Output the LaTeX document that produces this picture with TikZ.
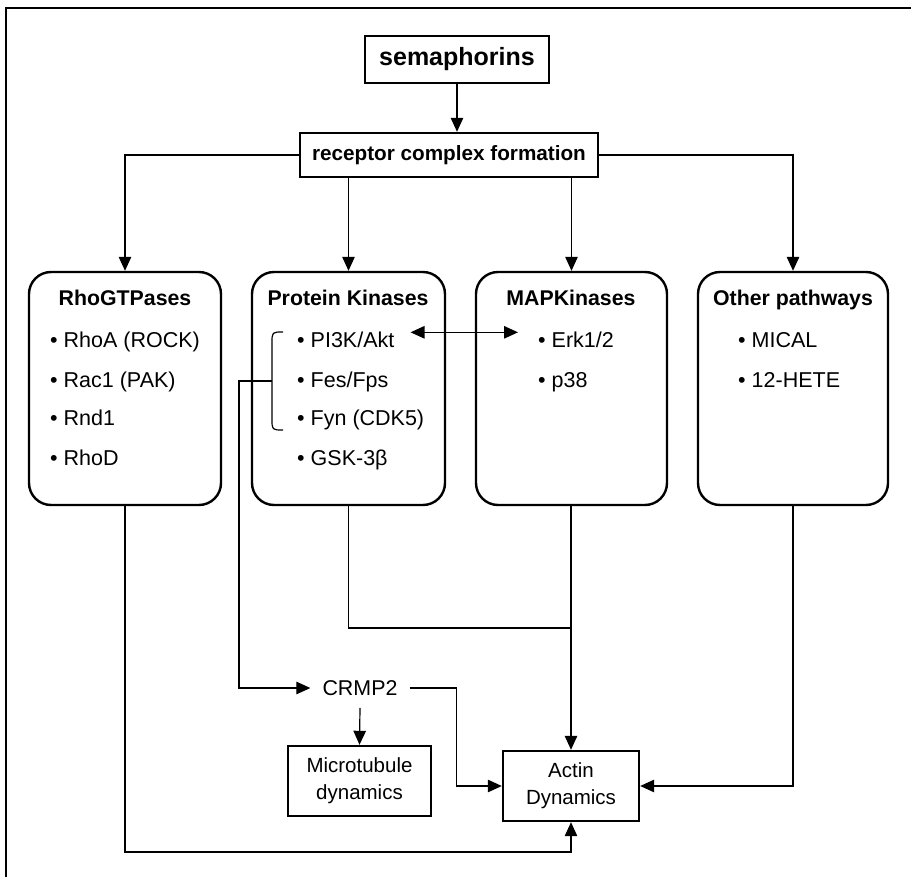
\documentclass[tikz,border=0pt]{standalone}
\usepackage{fontspec}
\setmainfont{Liberation Sans}
\usetikzlibrary{arrows.meta,calc}
\begin{document}
\begin{tikzpicture}[x=1pt,y=-1pt,
  conn/.style={line width=1.2pt},
  arr/.style={conn,-{Triangle[length=14pt,width=12.5pt]}},
  dblarr/.style={conn,{Triangle[length=14pt,width=12.5pt]}-{Triangle[length=14pt,width=12.5pt]}},
  sqbox/.style={draw,line width=2.4pt,inner sep=0pt,align=center},
  rbox/.style={draw,line width=2.4pt,rounded corners=22pt,minimum height=233pt,inner sep=0pt},
  ttl/.style={font=\fontsize{21.3}{25}\selectfont\bfseries,inner sep=0pt,anchor=base},
  itm/.style={font=\fontsize{21.5}{25}\selectfont,anchor=base west,inner sep=0pt},
]
\useasboundingbox (0,0) rectangle (911,877);
% frame (only left and top visible)
\draw[line width=2pt] (6,900) -- (6,8) -- (930,8);

% top boxes
\node[sqbox,minimum width=184pt,minimum height=47pt,font=\fontsize{25}{30}\selectfont\bfseries] (sema) at (457,59.5) {semaphorins};
\node[sqbox,minimum width=298pt,minimum height=44pt,font=\fontsize{20.7}{25}\selectfont\bfseries] (rec) at (449,155) {receptor complex formation};

% pathway boxes
\node[rbox,minimum width=192pt] (rho) at (125,388.5) {};
\node[rbox,minimum width=193pt] (pk) at (348.5,388.5) {};
\node[rbox,minimum width=191pt] (mapk) at (571.5,388.5) {};
\node[rbox,minimum width=190pt] (oth) at (793,388.5) {};

% titles
\node[ttl] (rhot) at (125,305.6) {RhoGTPases};
\node[ttl] (pkt) at (348,305.6) {Protein Kinases};
\node[ttl] (mapkt) at (571,305.6) {MAPKinases};
\node[ttl] (otht) at (793,305.6) {Other pathways};

% items
\node[itm] (r1) at (50,348) {• RhoA (ROCK)};
\node[itm] (r2) at (50,388) {• Rac1 (PAK)};
\node[itm] (r3) at (50,426) {• Rnd1};
\node[itm] (r4) at (50,465) {• RhoD};

\node[itm] (p1) at (297,348) {• PI3K/Akt};
\node[itm] (p2) at (297,388) {• Fes/Fps};
\node[itm] (p3) at (297,426) {• Fyn (CDK5)};
\node[itm] (p4) at (297,465) {• GSK-3β};

\node[itm] (m1) at (538,348) {• Erk1/2};
\node[itm] (m2) at (538,388) {• p38};

\node[itm] (o1) at (738,348) {• MICAL};
\node[itm] (o2) at (738,388) {• 12-HETE};

% lower nodes
\node[inner sep=12pt,font=\fontsize{21.4}{25}\selectfont] (crmp) at (360,688) {CRMP2};
\node[sqbox,minimum width=143pt,minimum height=70pt,font=\fontsize{20.5}{27}\selectfont] (micro) at (359.5,781) {Microtubule\\dynamics};
\node[sqbox,minimum width=136pt,minimum height=70pt,font=\fontsize{20.5}{27}\selectfont] (actin) at (571,786) {Actin\\Dynamics};

% bracket
\draw[conn] (283,332) .. controls (272,332) .. (272,343) -- (272,419) .. controls (272,430) .. (283,430);
\coordinate (brk) at (272,381);

% connectors
\draw[arr] (sema.south) -- (sema.south |- rec.north);
\draw[arr] (rec.west) -| (rho.north);
\draw[arr] (rec.east) -| (oth.north);
\draw[arr] (pk.north |- rec.south) -- (pk.north);
\draw[arr] (mapk.north |- rec.south) -- (mapk.north);

\draw[dblarr] ($(p1.east)+(16,-8)$) -- ($(m1.west)+(-20,-8)$);

\draw[arr] (brk) -- ++(-33,0) |- (crmp.west);
\draw[arr] (crmp.south) -- (micro.north);
\draw[arr] (crmp.east) -- ++(47,0) |- (actin.west);

\coordinate (junc) at (571,628);
\draw[conn] (pk.south) |- (junc);
\draw[arr] (mapk.south -| actin.north) -- (actin.north);
\draw[arr] (oth.south) |- (actin.east);
\draw[arr] (rho.south) -- (125,852) -| (actin.south);
\end{tikzpicture}
\end{document}
